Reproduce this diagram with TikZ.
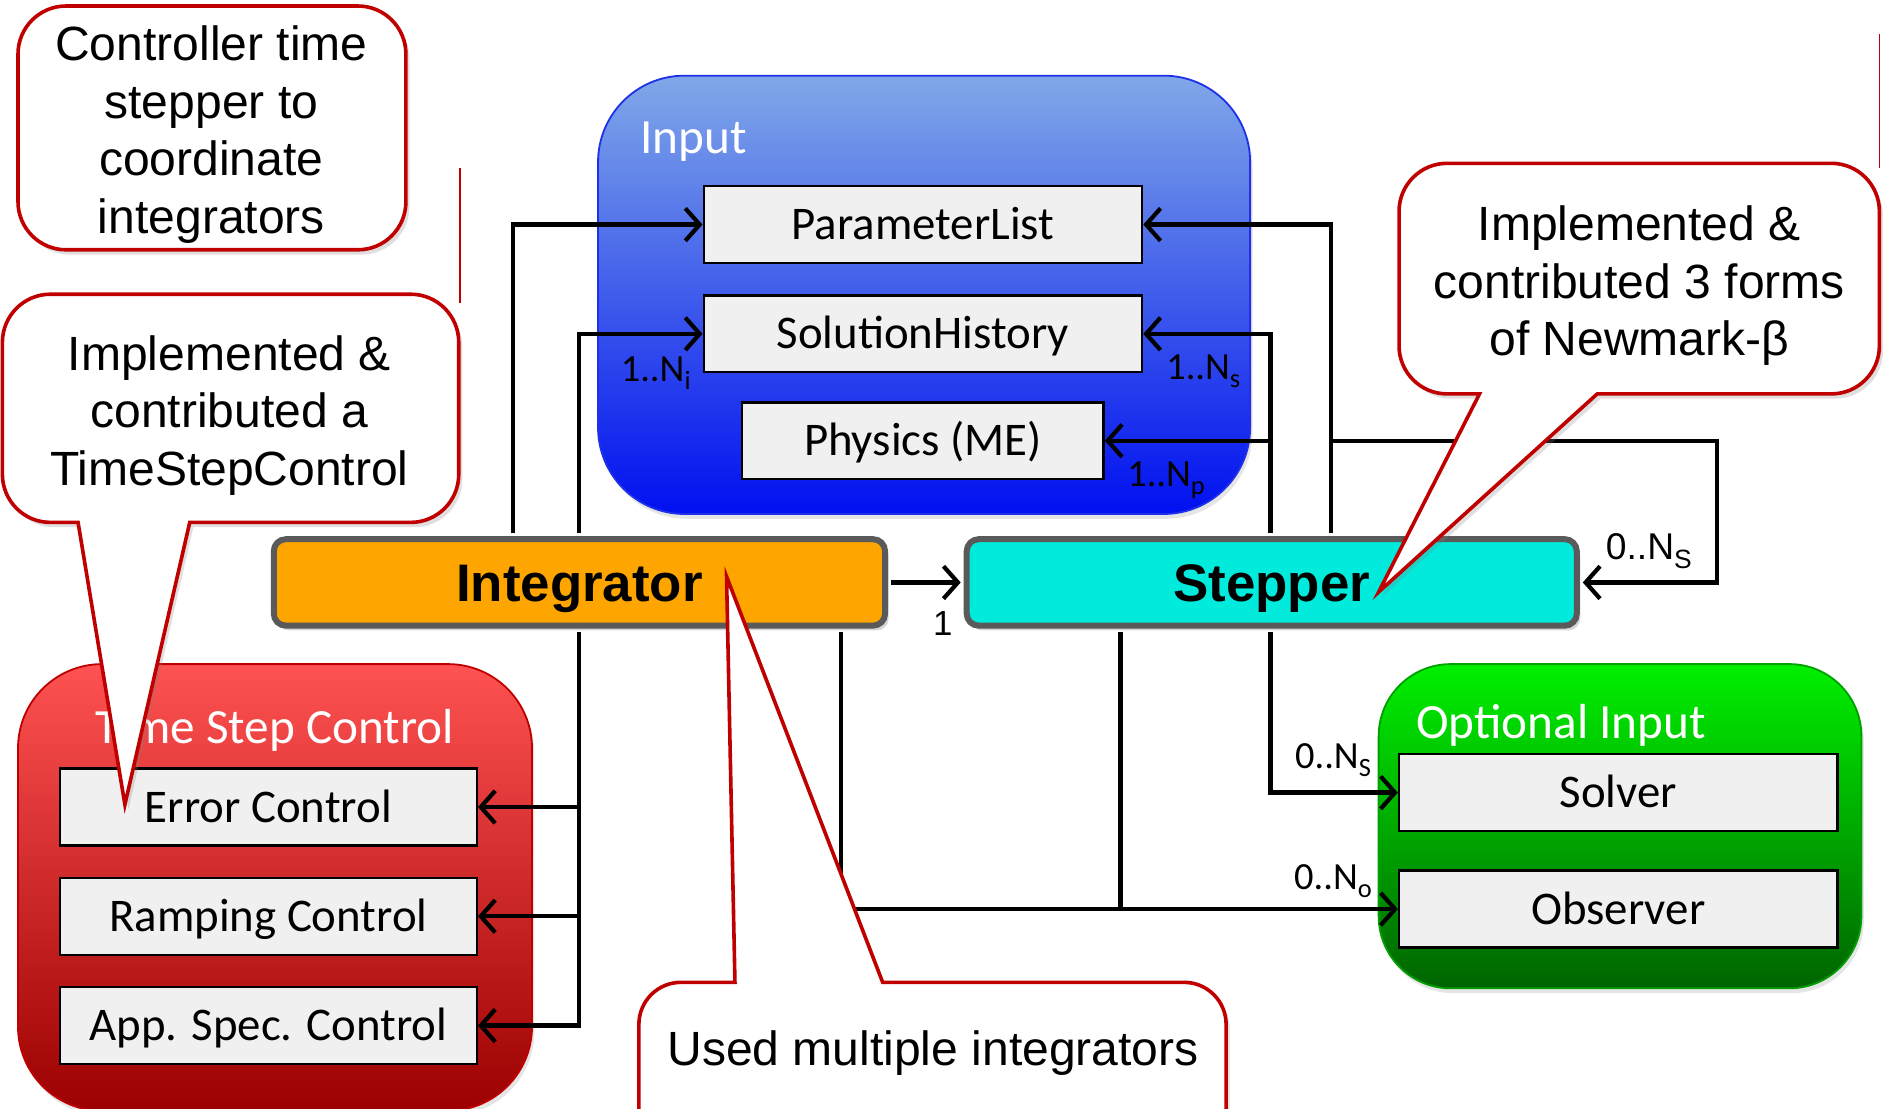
\documentclass[tikz,border=0pt]{standalone}
\usepackage{fontspec}
\setmainfont{Liberation Sans}
\newfontfamily\calfont{Carlito}
\usetikzlibrary{arrows.meta,shadows}

\definecolor{callred}{HTML}{C00000}
\definecolor{boxgray}{HTML}{F0F0F0}
\definecolor{edgegray}{HTML}{5A5A5A}
\definecolor{integfill}{HTML}{FFA500}
\definecolor{stepfill}{HTML}{00EBDC}
\definecolor{inptop}{HTML}{80A8E8}
\definecolor{inpbot}{HTML}{0010F0}
\definecolor{inpedge}{HTML}{1E30E8}
\definecolor{tsctop}{HTML}{FF5252}
\definecolor{tscbot}{HTML}{9C0000}
\definecolor{tscedge}{HTML}{C00000}
\definecolor{opttop}{HTML}{00F000}
\definecolor{optbot}{HTML}{006400}
\definecolor{optedge}{HTML}{00A000}

\newcommand{\lowsub}[1]{\raisebox{-0.45ex}{\fontsize{22}{22}\selectfont #1}}

\tikzset{
  group/.style={draw, line width=1.5pt, inner sep=0pt,
    drop shadow={shadow xshift=2pt, shadow yshift=-4pt, opacity=0.2}},
  item/.style={draw=black, line width=2pt, fill=boxgray, inner sep=0pt,
    minimum height=64pt, text height=25pt, text depth=0pt,
    font=\calfont\fontsize{39}{47}\selectfont},
  actor/.style={draw=edgegray, line width=5pt, rounded corners=10pt, inner sep=0pt,
    minimum height=72pt, text height=31.5pt, text depth=0pt,
    font=\bfseries\fontsize{44}{53}\selectfont,
    drop shadow={shadow xshift=3pt, shadow yshift=-4pt, opacity=0.3}},
  conn/.style={line width=3.5pt, -{Straight Barb[length=12pt,width=27pt]}},
  wire/.style={line width=3.5pt},
  mult/.style={font=\calfont\fontsize{32}{38}\selectfont, inner sep=0pt},
  grouptitle/.style={font=\calfont\fontsize{41}{49}\selectfont, text=white,
    inner sep=0pt, anchor=west},
  callout/.style={draw=callred, line width=3pt, fill=white, line join=miter,
    drop shadow={shadow xshift=3pt, shadow yshift=-4pt, opacity=0.25}},
  ctext/.style={align=center, font=\fontsize{40}{48}\selectfont, inner sep=0pt},
}

\begin{document}
\begin{tikzpicture}[x=1pt, y=1pt]
\useasboundingbox (0,0) rectangle (1568,-923);
\clip (0,0) rectangle (1568,-923);
\fill[white] (0,0) rectangle (1568,-923);

% container groups
\node[group, draw=inpedge, top color=inptop, bottom color=inpbot, rounded corners=72pt,
  minimum width=543pt, minimum height=365pt] (inp) at (769.5,-245.5) {};
\node[grouptitle] (inpt) at (533,-118) {Input};
\node[group, draw=tscedge, top color=tsctop, bottom color=tscbot, rounded corners=70pt,
  minimum width=428pt, minimum height=372pt] (tsc) at (229,-739) {};
\node[grouptitle, anchor=center] (tsct) at (229,-608) {Time Step Control};
\node[group, draw=optedge, top color=opttop, bottom color=optbot, rounded corners=60pt,
  minimum width=402pt, minimum height=270pt] (opt) at (1349,-688) {};
\node[grouptitle] (optt) at (1179,-604) {Optional Input};

% member boxes
\node[item, minimum width=365pt] (pl) at (768.5,-187) {ParameterList};
\node[item, minimum width=365pt] (sh) at (768.5,-278) {SolutionHistory};
\node[item, minimum width=301pt] (phy) at (768.5,-367) {Physics (ME)};
\node[item, minimum width=347pt] (err) at (223.5,-672) {Error Control};
\node[item, minimum width=347pt] (ramp) at (223.5,-763) {Ramping Control};
\node[item, minimum width=347pt] (app) at (223.5,-854) {App. Spec. Control};
\node[item, minimum width=365pt] (solver) at (1347.5,-660) {Solver};
\node[item, minimum width=365pt] (obs) at (1347.5,-757) {Observer};

% main actors
\node[actor, fill=integfill, minimum width=509pt] (integ) at (482.5,-485) {Integrator};
\node[actor, fill=stepfill, minimum width=508pt] (step) at (1059,-485) {Stepper};

% vertical tracks of the connectors
\coordinate (va) at (427,0);
\coordinate (vb) at (482,0);
\coordinate (vc) at (700,0);
\coordinate (vd) at (933,0);
\coordinate (ve) at (1058,0);
\coordinate (vf) at (1108,0);
\coordinate (vg) at (1430,0);

% connectors from the integrator
\draw[conn, shorten <=2.5pt] (integ.north -| va) |- (pl.west);
\draw[conn, shorten <=2.5pt] (integ.north -| vb) |- (sh.west);
\draw[conn, shorten <=2.5pt] (integ.south -| vb) |- (app.east);
\draw[conn] (vb |- err.east) -- (err.east);
\draw[conn] (vb |- ramp.east) -- (ramp.east);
\draw[conn, shorten <=2.5pt] (integ.south -| vc) |- (obs.west);
\draw[conn, shorten <=2.5pt, shorten >=2.5pt] (integ.east) -- (step.west);

% connectors from the stepper
\draw[conn, shorten <=2.5pt] (step.north -| vf) |- (pl.east);
\draw[conn, shorten <=2.5pt] (step.north -| ve) |- (sh.east);
\draw[conn] (ve |- phy.east) -- (phy.east);
\draw[conn, shorten >=2.5pt] (vf |- phy.east) -| (vg |- step.east) -- (step.east);
\draw[conn, shorten <=2.5pt] (step.south -| ve) |- (solver.west);
\draw[wire, shorten <=2.5pt] (step.south -| vd) -- (vd |- obs.west);

% multiplicities
\node[mult] (lni) at (546,-311) {1..N\lowsub{i}};
\node[mult] (lns) at (1002,-309) {1..N\lowsub{s}};
\node[mult] (lnp) at (971,-400) {1..N\lowsub{p}};
\node[mult] (lsol) at (1110,-633) {0..N\lowsub{S}};
\node[mult] (lobs) at (1110,-734) {0..N\lowsub{o}};
\node[font=\fontsize{31}{37}\selectfont, inner sep=0pt] (lloop) at (1373,-459) {0..N\lowsub{S}};
\node[font=\fontsize{29}{35}\selectfont, inner sep=0pt] (lone) at (785,-519) {1};

% callouts
\draw[callout, rounded corners=40pt] (15,-5) rectangle (338,-208);
\node[ctext] (c1) at (176,-112) {Controller time\\stepper to\\coordinate\\integrators};

\draw[callout] (104,-670) -- (158,-435) -- (342,-435)
  arc[start angle=270, end angle=360, radius=40] -- (382,-285)
  arc[start angle=0, end angle=90, radius=40] -- (42,-245)
  arc[start angle=90, end angle=180, radius=40] -- (2,-395)
  arc[start angle=180, end angle=270, radius=40] -- (65,-435) -- cycle;
\node[ctext] (c2) at (191,-346) {Implemented \&\\contributed a\\TimeStepControl};

\draw[callout] (1148,-493) -- (1330,-328) -- (1525,-328)
  arc[start angle=270, end angle=360, radius=40] -- (1565,-176)
  arc[start angle=0, end angle=90, radius=40] -- (1205,-136)
  arc[start angle=90, end angle=180, radius=40] -- (1165,-288)
  arc[start angle=180, end angle=270, radius=40] -- (1232,-328) -- cycle;
\node[ctext] (c3) at (1365,-238) {Implemented \&\\contributed 3 forms\\of Newmark-β};

\draw[callout] (605,-480) -- (735,-818) -- (986,-818)
  arc[start angle=90, end angle=0, radius=35] -- (1021,-925)
  arc[start angle=0, end angle=-90, radius=35] -- (567,-960)
  arc[start angle=-90, end angle=-180, radius=35] -- (532,-853)
  arc[start angle=180, end angle=90, radius=35] -- (612,-818) -- cycle;
\node[ctext] (c4) at (777,-877) {Used multiple integrators};

% stray callout edges
\draw[callred, line width=1.2pt] (383,-140) -- (383,-252);
\draw[callred, line width=1.2pt] (1565,-28) -- (1565,-140);
\end{tikzpicture}
\end{document}
